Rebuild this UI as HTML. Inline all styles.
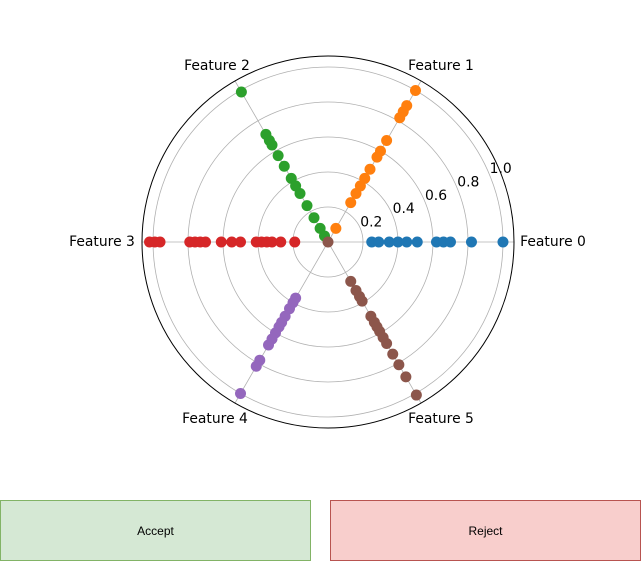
<!DOCTYPE html>
<html><head><meta charset="utf-8"><style>
body{margin:0;width:641px;height:561px;background:#fff;font-family:"Liberation Sans",sans-serif;position:relative;overflow:hidden}
.btn{position:absolute;top:500px;height:61px;width:311px;display:flex;align-items:center;justify-content:center;font-size:12px;color:#000;box-sizing:border-box}
</style></head><body>
<svg id="chart" width="641" height="490" style="position:absolute;left:0;top:0" font-family="DejaVu Sans, sans-serif"></svg>
<div class="btn" style="left:0;background:#d5e8d4;border:1px solid #82b366">Accept</div>
<div class="btn" style="left:330px;background:#f8cecc;border:1px solid #b85450">Reject</div>
<script>
const features=["Feature 0","Feature 1","Feature 2","Feature 3","Feature 4","Feature 5"];
const colors=["#1f77b4","#ff7f0e","#2ca02c","#d62728","#9467bd","#8c564b"];
const f0=[0.25,0.29,0.35,0.40,0.45,0.51,0.62,0.66,0.70,0.82,1.0];
const f1=[1.0,0.90,0.86,0.82,0.67,0.60,0.56,0.48,0.42,0.37,0.32,0.26,0.09];
const f2=[0.99,0.71,0.67,0.64,0.57,0.50,0.42,0.37,0.32,0.24,0.16,0.09,0.04];
const f3=[1.02,0.99,0.96,0.79,0.76,0.73,0.70,0.61,0.55,0.50,0.41,0.38,0.35,0.32,0.27,0.19];
const f4=[0.37,0.40,0.44,0.49,0.53,0.56,0.60,0.64,0.68,0.78,0.82,1.0];
const f5=[0.0,0.26,0.32,0.36,0.39,0.49,0.53,0.56,0.59,0.63,0.67,0.74,0.81,0.89,1.01];
const rTicks=[0.2,0.4,0.6,0.8,1.0];
const rMax=1.063;
const series=[f0,f1,f2,f3,f4,f5];
const cx=328,cy=242,R=186;
const svg=document.getElementById('chart');
const NS='http://www.w3.org/2000/svg';
function rs(v){return v/rMax*R;}
function pt(v,i){const a=i*Math.PI/3;return [cx+rs(v)*Math.cos(a),cy-rs(v)*Math.sin(a)];}
function mk(t,attrs){const e=document.createElementNS(NS,t);for(const k in attrs)e.setAttribute(k,attrs[k]);svg.appendChild(e);return e;}
rTicks.forEach(t=>{const c=mk('circle',{cx:cx,cy:cy,r:rs(t),fill:'none',stroke:'#b0b0b0','stroke-width':0.8});

});
features.forEach((f,i)=>{const p=pt(rMax,i);const l=mk('line',{x1:cx,y1:cy,x2:p[0],y2:p[1],stroke:'#b0b0b0','stroke-width':0.8});

});
const oc=mk('circle',{cx:cx,cy:cy,r:R,fill:'none',stroke:'#000','stroke-width':1});


series.forEach((s,i)=>{s.forEach(v=>{const p=pt(v,i);const c=mk('circle',{cx:p[0],cy:p[1],r:5.5,fill:colors[i]});

});});
const labelPos=[[553,246],[441,70],[217,70],[102,246],[215,423],[441,423]];
features.forEach((f,i)=>{
const t=mk('text',{x:labelPos[i][0],y:labelPos[i][1],'font-size':13.9,'text-anchor':'middle'});
t.textContent=f;

});
rTicks.forEach(t=>{const a=22.5*Math.PI/180;const x=cx+rs(t)*Math.cos(a)+11,y=cy-rs(t)*Math.sin(a)-2;
const tx=mk('text',{x:x,y:y,'font-size':13.9,'text-anchor':'middle'});
tx.textContent=t.toFixed(1);

});
</script>
</body></html>
